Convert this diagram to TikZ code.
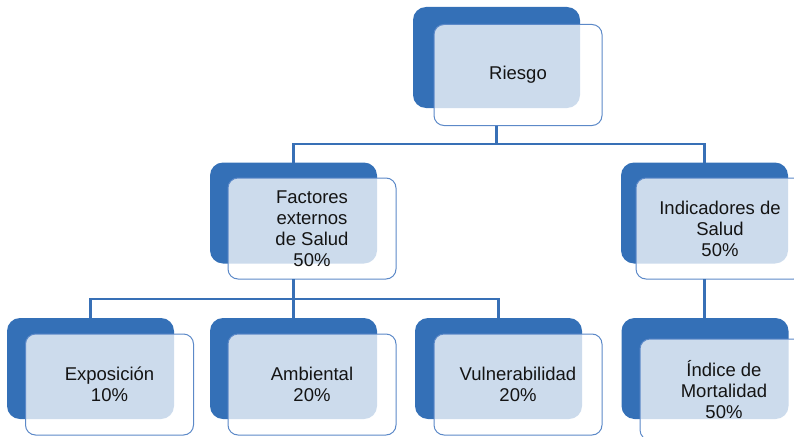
\documentclass[tikz,border=0pt]{standalone}
\usepackage{fontspec}
\setmainfont{Liberation Sans}
\definecolor{dkblue}{RGB}{52,112,183}
\definecolor{lnblue}{RGB}{56,112,182}
\definecolor{olblue}{RGB}{92,137,200}
\definecolor{txt}{RGB}{20,20,20}
\begin{document}
\begin{tikzpicture}[x=1pt,y=-1pt,
  backbox/.style={fill=dkblue, draw=none, rounded corners=13pt, minimum width=167pt, minimum height=101pt, inner sep=0pt, outer sep=0pt},
  frontbox/.style={fill=white, fill opacity=0.75, text opacity=1, draw=olblue, line width=1pt, rounded corners=10pt,
     minimum width=168pt, minimum height=101pt, inner sep=0pt, outer sep=0pt, align=center, text=txt,
     font=\fontsize{18.5pt}{21pt}\selectfont},
  conn/.style={draw=lnblue, line width=2.2pt}]
\useasboundingbox (0,0) rectangle (794,436);
\clip (0,0) rectangle (794,436);
% back boxes
\node[backbox] (rD) at (496.5,57.5) {};
\node[backbox] (fD) at (293.5,213) {};
\node[backbox] (iD) at (704.5,213) {};
\node[backbox] (eD) at (90.5,368.5) {};
\node[backbox] (aD) at (293.5,368.5) {};
\node[backbox] (vD) at (498.5,368.5) {};
\node[backbox] (xD) at (705,368.5) {};
% bus coordinates
\coordinate (bus1) at (496.5,144);
\coordinate (bus2) at (293.5,299);
% front boxes
\node[frontbox] (r) at (518,75) {Riesgo};
\node[frontbox] (f) at (312,228.5) {Factores\\externos\\de Salud\\50\%};
\node[frontbox] (i) at (720,228.5) {Indicadores de\\Salud\\50\%};
\node[frontbox] (e) at (109.5,384.5) {Exposición\\10\%};
\node[frontbox] (a) at (312,384.5) {Ambiental\\20\%};
\node[frontbox] (v) at (518,384.5) {Vulnerabilidad\\20\%};
\node[frontbox] (x) at (724,389.5) {Índice de\\Mortalidad\\50\%};
% connectors
\draw[conn] (rD.center |- r.south) -- (bus1);
\draw[conn] (fD.north) -- (fD.north |- bus1) -- (iD.north |- bus1) -- (iD.north);
\draw[conn] (fD.center |- f.south) -- (bus2);
\draw[conn] (eD.north) -- (eD.north |- bus2) -- (vD.north |- bus2) -- (vD.north);
\draw[conn] (bus2) -- (aD.north);
\draw[conn] (iD.center |- i.south) -- (iD.center |- xD.north);
\end{tikzpicture}
\end{document}
